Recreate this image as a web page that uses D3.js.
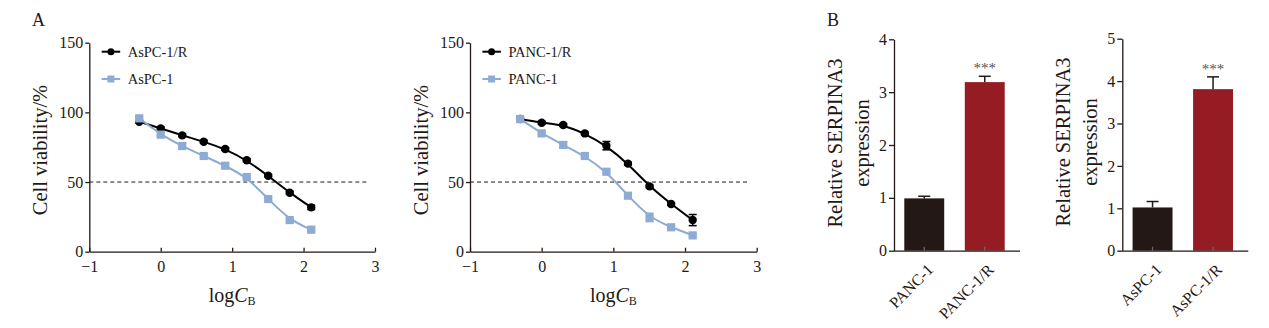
<!DOCTYPE html>
<html><head><meta charset="utf-8">
<script src="https://cdn.jsdelivr.net/npm/d3@7"></script>
<style>
html,body{margin:0;padding:0;background:#fff;}
svg{display:block;font-family:"Liberation Serif","Times New Roman",serif;}
</style></head>
<body>
<svg id="c" width="1269" height="328"></svg>
<script>
// ---------- DATA ----------
const logC = [-0.301, 0, 0.301, 0.602, 0.903, 1.204, 1.505, 1.806, 2.107];
const aspcR = [93.3, 88.5, 83.5, 78.9, 73.7, 65.6, 54.5, 42.3, 31.8];
const aspcRErr = [1, 1, 1, 1, 1, 1, 1, 1, 1.5];
const aspc = [95.7, 84.0, 75.8, 68.7, 61.7, 53.6, 37.8, 22.7, 15.8];
const aspcErr = [1, 1, 2, 1, 1, 1, 1, 1, 1];
const pancR = [95.2, 92.6, 90.9, 84.9, 76.1, 63.2, 46.9, 34.2, 22.7];
const pancRErr = [1, 1, 1, 1, 3, 1, 1, 1, 4];
const panc = [95.2, 84.9, 76.6, 68.7, 57.4, 40.2, 24.6, 17.5, 11.7];
const pancErr = [1, 1, 2, 1, 1, 1, 3, 1, 1];
const xTicksLine = [-1, 0, 1, 2, 3];
const yTicksLine = [0, 50, 100, 150];
const threshold = 50;

const barCats1 = ["PANC-1", "PANC-1/R"];
const barVals1 = [0.99, 3.19];
const barErr1 = [0.04, 0.11];
const yTicksBar1 = [0, 1, 2, 3, 4];
const barCats2 = ["AsPC-1", "AsPC-1/R"];
const barVals2 = [1.02, 3.81];
const barErr2 = [0.14, 0.29];
const yTicksBar2 = [0, 1, 2, 3, 4, 5];
const sigLabel = "***";

// ---------- STYLE ----------
const INK = "#231815";
const BLUE = "#8eabd4";
const BAR_COLORS = ["#231815", "#941c22"];
const svg = d3.select("#c");

function styleAxis(g){
  g.selectAll("path.domain").attr("stroke", INK).attr("stroke-width", 1.3);
  g.selectAll(".tick line").attr("stroke", INK).attr("stroke-width", 1.3);
  g.selectAll(".tick text").attr("fill", INK).attr("font-family", "Liberation Serif").attr("font-size", 16);
}

function linePanel(o){
  const x = d3.scaleLinear().domain([-1, 3]).range([o.x0, o.x1]);
  const y = d3.scaleLinear().domain([0, 150]).range([251.7, 42.7]);
  const g = svg.append("g");
  g.append("line").attr("x1", x(-1)).attr("x2", x(2.88)).attr("y1", y(threshold)).attr("y2", y(threshold))
    .attr("stroke", INK).attr("stroke-width", 1).attr("stroke-dasharray", "4,3");
  const ya = g.append("g").attr("transform", `translate(${x(-1)},0)`)
    .call(d3.axisLeft(y).tickValues(yTicksLine).tickSize(4).tickPadding(2).tickSizeOuter(0));
  styleAxis(ya);
  const xa = g.append("g").attr("transform", `translate(0,${y(0)})`)
    .call(d3.axisBottom(x).tickValues(xTicksLine).tickSize(-4).tickPadding(9).tickSizeOuter(0)
      .tickFormat(d => d < 0 ? "\u2212" + Math.abs(d) : d));
  styleAxis(xa);
  g.append("text").attr("transform", `translate(${o.x0 - 49},150) rotate(-90)`)
    .attr("text-anchor", "middle").attr("dominant-baseline", "central")
    .attr("font-size", 20.5).attr("fill", INK).text("Cell viability/%");
  const t = g.append("text").attr("x", x(1)).attr("y", 302).attr("text-anchor", "middle")
    .attr("font-size", 20).attr("fill", INK);
  t.append("tspan").text("log");
  t.append("tspan").attr("font-style", "italic").text("C");
  t.append("tspan").attr("font-size", 12).attr("dy", 3).text("B");

  const lineGen = d3.line().x((d, i) => x(logC[i])).y(d => y(d)).curve(d3.curveBasis);
  o.series.forEach(s => {
    g.append("path").datum(s.vals).attr("d", lineGen).attr("fill", "none")
      .attr("stroke", s.color).attr("stroke-width", 2);
    const eb = g.append("g");
    s.vals.forEach((v, i) => {
      const e = s.err[i]; const cx = x(logC[i]);
      eb.append("line").attr("x1", cx).attr("x2", cx).attr("y1", y(v - e)).attr("y2", y(v + e)).attr("stroke", s.color).attr("stroke-width", 1.5);
      eb.append("line").attr("x1", cx - 4).attr("x2", cx + 4).attr("y1", y(v + e)).attr("y2", y(v + e)).attr("stroke", s.color).attr("stroke-width", 1.5);
      eb.append("line").attr("x1", cx - 4).attr("x2", cx + 4).attr("y1", y(v - e)).attr("y2", y(v - e)).attr("stroke", s.color).attr("stroke-width", 1.5);
    });
    if (s.shape === "circle") {
      g.selectAll(null).data(s.vals).enter().append("circle")
        .attr("cx", (d, i) => x(logC[i])).attr("cy", d => y(d)).attr("r", 4.2).attr("fill", s.color);
    } else {
      g.selectAll(null).data(s.vals).enter().append("rect")
        .attr("x", (d, i) => x(logC[i]) - 4.1).attr("y", d => y(d) - 4.1)
        .attr("width", 8.2).attr("height", 8.2).attr("fill", s.color);
    }
  });
  o.series.forEach((s, k) => {
    const ly = 51.7 + k * 27.3, lx = o.x0 + 12.4;
    g.append("line").attr("x1", lx).attr("x2", lx + 18.5).attr("y1", ly).attr("y2", ly).attr("stroke", s.color).attr("stroke-width", 2);
    if (s.shape === "circle") g.append("circle").attr("cx", lx + 9.2).attr("cy", ly).attr("r", 3.5).attr("fill", s.color);
    else g.append("rect").attr("x", lx + 9.2 - 3.5).attr("y", ly - 3.5).attr("width", 7).attr("height", 7).attr("fill", s.color);
    g.append("text").attr("x", lx + 26).attr("y", ly + 5).attr("font-size", 14.5).attr("fill", INK).text(s.name);
  });
}

linePanel({x0: 89.3, x1: 375, series: [
  {name: "AsPC-1/R", vals: aspcR, err: aspcRErr, color: "#000", shape: "circle"},
  {name: "AsPC-1", vals: aspc, err: aspcErr, color: BLUE, shape: "square"}]});
linePanel({x0: 470, x1: 756.7, series: [
  {name: "PANC-1/R", vals: pancR, err: pancRErr, color: "#000", shape: "circle"},
  {name: "PANC-1", vals: panc, err: pancErr, color: BLUE, shape: "square"}]});

function barPanel(o){
  const x = d3.scaleBand().domain(o.cats).range([o.x0, o.x0 + 121]).paddingInner(0.34).paddingOuter(0.17);
  const y = d3.scaleLinear().domain([0, o.ymax]).range([250.7, o.ytop]);
  const g = svg.append("g");
  g.selectAll(null).data(o.vals).enter().append("rect")
    .attr("x", (d, i) => x(o.cats[i])).attr("width", x.bandwidth())
    .attr("y", d => y(d)).attr("height", d => y(0) - y(d))
    .attr("fill", (d, i) => BAR_COLORS[i]);
  o.vals.forEach((v, i) => {
    const cx = x(o.cats[i]) + x.bandwidth() / 2;
    const top = y(v + o.err[i]);
    g.append("line").attr("x1", cx).attr("x2", cx).attr("y1", y(v)).attr("y2", top).attr("stroke", INK).attr("stroke-width", 1.5);
    g.append("line").attr("x1", cx - 6).attr("x2", cx + 6).attr("y1", top).attr("y2", top).attr("stroke", INK).attr("stroke-width", 1.5);
    if (i === 1) g.append("text").attr("x", cx).attr("y", top - 3).attr("text-anchor", "middle")
      .attr("font-size", 15).attr("fill", "#555").text(sigLabel);
  });
  const ya = g.append("g").attr("transform", `translate(${o.x0},0)`)
    .call(d3.axisLeft(y).tickValues(o.ticks).tickFormat(d3.format("d")).tickSize(5).tickPadding(2).tickSizeOuter(0));
  styleAxis(ya);
  const xa = g.append("g").attr("transform", `translate(0,${y(0)})`)
    .call(d3.axisBottom(x).tickSize(-4).tickSizeOuter(0));
  styleAxis(xa);
  xa.select("path.domain").attr("d", `M${o.x0},0.5H${o.x0 + 126}`);
  xa.selectAll(".tick line").attr("stroke", "#666");
  xa.selectAll(".tick text").attr("font-size", 16).attr("text-anchor", "end")
    .attr("transform", "translate(10,20) rotate(-45)").attr("x", 0).attr("y", 0).attr("dy", 0);
  const t = g.append("text").attr("transform", `translate(${o.x0 - 59},${o.tc}) rotate(-90)`)
    .attr("text-anchor", "middle").attr("font-size", 20.5).attr("fill", INK);
  t.append("tspan").attr("x", 0).attr("dy", "0.35em").text("Relative SERPINA3");
  t.append("tspan").attr("x", 0).attr("dy", 27).text("expression");
}

barPanel({x0: 894, cats: barCats1, vals: barVals1, err: barErr1, ymax: 4, ytop: 39.3, ticks: yTicksBar1, tc: 143});
barPanel({x0: 1122.3, cats: barCats2, vals: barVals2, err: barErr2, ymax: 5, ytop: 38.7, ticks: yTicksBar2, tc: 142});

svg.append("text").attr("x", 32).attr("y", 26).attr("font-size", 18).attr("fill", INK).text("A");
svg.append("text").attr("x", 827).attr("y", 26).attr("font-size", 18).attr("fill", INK).text("B");
</script>
</body></html>
